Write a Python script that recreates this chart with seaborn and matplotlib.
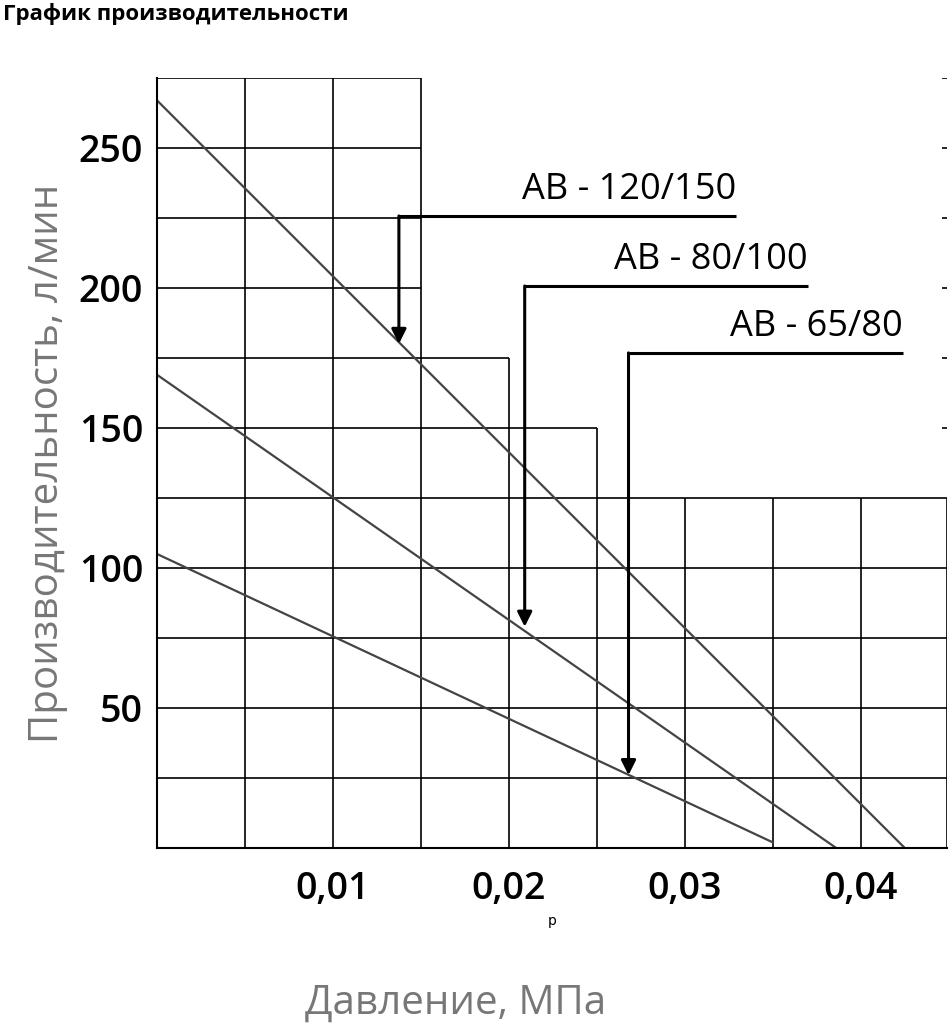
# Performance chart: flow vs pressure for three pump models
import matplotlib
matplotlib.use("Agg")
import matplotlib.pyplot as plt
import seaborn as sns
import pandas as pd

# Line endpoints (pressure MPa, flow l/min)
models = ["AB - 120/150", "AB - 80/100", "AB - 65/80"]
pressure_start = [0.0, 0.0, 0.0]
pressure_end = [0.0425, 0.0386, 0.035]
flow_start = [267, 169, 105]
flow_end = [0, 0, 2]

# Arrow callouts: label shelf y, shelf x-range, arrow tip y
shelf_y = [225.7, 200.7, 176.8]
shelf_x0 = [0.01375, 0.0209, 0.0268]
shelf_x1 = [0.0329, 0.0370, 0.0424]
tip_y = [180, 79, 26]

x_ticks = [0.01, 0.02, 0.03, 0.04]
x_labels = ["0,01", "0,02", "0,03", "0,04"]
y_ticks = [50, 100, 150, 200, 250]

rows = []
for m, xs, xe, ys, ye in zip(models, pressure_start, pressure_end, flow_start, flow_end):
    rows.append({"model": m, "p": xs, "q": ys})
    rows.append({"model": m, "p": xe, "q": ye})
df = pd.DataFrame(rows)

fig = plt.figure(figsize=(9.53, 10.24), dpi=100)
ax = fig.add_axes([0.1647, 0.1719, 0.829, 0.752])
ax.set_xlim(0, 0.0449)
ax.set_ylim(0, 275)

# stepped grid
gc = "black"
lw = 1.2
for y, xe in [(275, 0.015), (250, 0.015), (225, 0.015), (200, 0.015),
              (175, 0.020), (150, 0.025), (125, 0.0449), (100, 0.0449),
              (75, 0.0449), (50, 0.0449), (25, 0.0449)]:
    ax.hlines(y, 0, xe, color=gc, lw=lw)
for x, yt in [(0.005, 275), (0.010, 275), (0.015, 275), (0.020, 175),
              (0.025, 150), (0.030, 125), (0.035, 125), (0.040, 125), (0.0449, 125)]:
    ax.vlines(x, 0, yt, color=gc, lw=lw)
for y in [275, 250, 225, 200, 175, 150]:
    ax.hlines(y, 0.0446, 0.0449, color=gc, lw=lw)

sns.lineplot(data=df, x="p", y="q", units="model", estimator=None,
             color="#444444", lw=1.6, ax=ax, legend=False)

for m, sy, x0, x1, ty in zip(models, shelf_y, shelf_x0, shelf_x1, tip_y):
    ax.hlines(sy, x0, x1, color="black", lw=2.2)
    ax.annotate("", xy=(x0, ty), xytext=(x0, sy),
                arrowprops=dict(arrowstyle="-|>", color="black", lw=2.2,
                                mutation_scale=22, shrinkA=0, shrinkB=0))
    ax.text(x1, sy + 3, m, ha="right", va="bottom",
            fontsize=26, family="Open Sans")

for s in ["top", "right"]:
    ax.spines[s].set_visible(False)
ax.spines["left"].set_linewidth(1.5)
ax.spines["bottom"].set_linewidth(1.5)

ax.set_xticks(x_ticks)
ax.set_xticklabels(x_labels)
ax.set_yticks(y_ticks)
ax.tick_params(length=0, labelsize=27, pad=10)
ax.tick_params(axis="x", pad=16)
for t in ax.get_xticklabels() + ax.get_yticklabels():
    t.set_family("Open Sans")
    t.set_fontweight("semibold")

ax.set_ylabel("Производительность, л/мин", fontsize=29, color="#777777",
              family="Open Sans", labelpad=8)
fig.text(0.478, 0.0, "Давление, МПа", fontsize=29, color="#777777",
         family="Open Sans", ha="center", va="bottom")

fig.text(0.003, 0.997, "График производительности", fontsize=16, fontweight="bold",
         family="Open Sans", ha="left", va="top")

fig.savefig("out.png", dpi=100)
